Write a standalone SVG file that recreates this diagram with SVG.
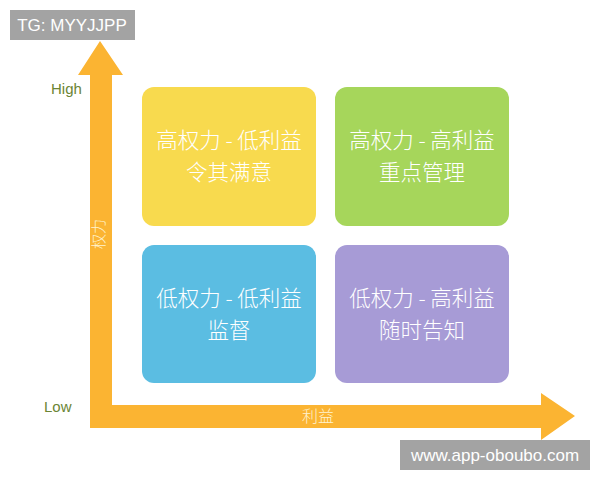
<svg xmlns="http://www.w3.org/2000/svg" width="600" height="480" viewBox="0 0 600 480">
<style>
.box{stroke:none}
.t{font-family:"Noto Sans CJK SC",sans-serif;font-weight:300;fill:#ffffff;font-size:21.5px;text-anchor:middle}
.ax{font-family:"Liberation Sans",sans-serif;fill:#6b8535;font-size:15px}
.tag{fill:#a3a3a3}
.tagt{font-family:"Liberation Sans",sans-serif;fill:#ffffff;font-size:17px;text-anchor:middle}
</style>
<rect width="600" height="480" fill="#ffffff"/>
<g id="axes">
<polygon fill="#fbb432" points="90,428 90,75 78,75 100,41 123,75 112,75 112,405 541,405 541,393 575,416 541,440 541,428"/>
</g>
<g id="tag-top"><rect class="tag" x="10" y="10" width="125" height="30"/><text class="tagt" x="72" y="31">TG: MYYJJPP</text></g>
<g id="tag-bottom"><rect class="tag" x="400" y="440" width="190" height="30"/><text class="tagt" x="495" y="461">www.app-oboubo.com</text></g>
<text class="ax" x="51" y="94">High</text>
<text class="ax" x="44" y="412">Low</text>
<text x="0" y="0" transform="translate(104,234) rotate(-90)" style="font-family:'Noto Sans CJK SC',sans-serif;font-weight:300;font-size:15px;fill:#fff3d0;text-anchor:middle">权力</text>
<text x="318" y="422" style="font-family:'Noto Sans CJK SC',sans-serif;font-weight:300;font-size:16px;fill:#fff3d0;text-anchor:middle">利益</text>
<g id="n1"><rect class="box" x="142" y="87" width="174" height="139" rx="12" fill="#f8da4e"/><text class="t" x="229" y="148">高权力 - 低利益</text><text class="t" x="229" y="180">令其满意</text></g>
<g id="n2"><rect class="box" x="335" y="87" width="174" height="139" rx="12" fill="#a6d65b"/><text class="t" x="422" y="148">高权力 - 高利益</text><text class="t" x="422" y="180">重点管理</text></g>
<g id="n3"><rect class="box" x="142" y="245" width="174" height="138" rx="12" fill="#5bbde2"/><text class="t" x="229" y="306">低权力 - 低利益</text><text class="t" x="229" y="338">监督</text></g>
<g id="n4"><rect class="box" x="335" y="245" width="174" height="138" rx="12" fill="#a79bd6"/><text class="t" x="422" y="306">低权力 - 高利益</text><text class="t" x="422" y="338">随时告知</text></g>
</svg>
